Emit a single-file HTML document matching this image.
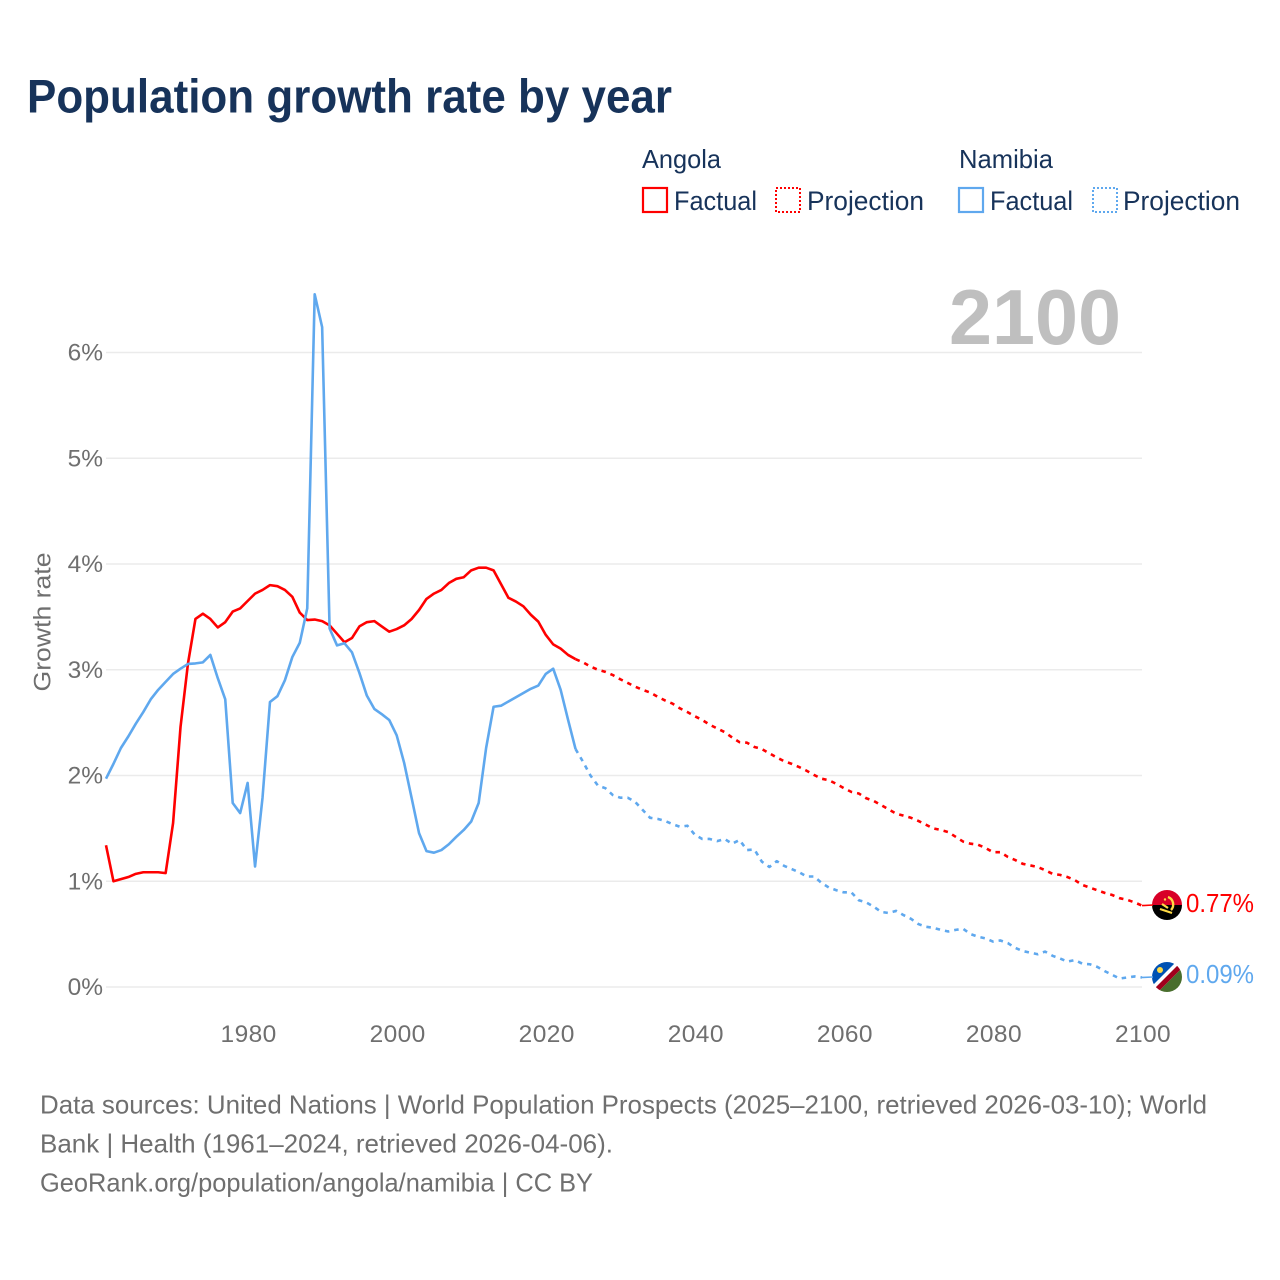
<!DOCTYPE html>
<html lang="en">
<head>
<meta charset="utf-8">
<title>Population growth rate by year</title>
<style>
html,body{margin:0;padding:0;background:#fff;width:1280px;height:1280px;overflow:hidden}
svg{display:block}
text{font-family:"Liberation Sans",sans-serif}
</style>
</head>
<body>
<svg id="chart" xmlns="http://www.w3.org/2000/svg" width="1280" height="1280" viewBox="0 0 1280 1280">
  <rect width="1280" height="1280" fill="#fff"/>
  <text x="27" y="112.5" font-size="47" font-weight="700" fill="#17335a" textLength="645" lengthAdjust="spacingAndGlyphs">Population growth rate by year</text>

  <g>
    <text x="642" y="168" font-size="26" fill="#17335a" textLength="79" lengthAdjust="spacingAndGlyphs">Angola</text>
    <text x="959" y="168" font-size="26" fill="#17335a" textLength="94" lengthAdjust="spacingAndGlyphs">Namibia</text>
    <g>
      <rect x="643" y="188" width="24" height="24" fill="none" stroke="#ff0000" stroke-width="2.2"/>
      <text x="674" y="210" font-size="26.5" fill="#17335a" textLength="83" lengthAdjust="spacingAndGlyphs">Factual</text>
    </g>
    <g>
      <rect x="776" y="188" width="24" height="24" fill="none" stroke="#ff0000" stroke-width="2" stroke-dasharray="2 2"/>
      <text x="807" y="210" font-size="26.5" fill="#17335a" textLength="117" lengthAdjust="spacingAndGlyphs">Projection</text>
    </g>
    <g>
      <rect x="959" y="188" width="24" height="24" fill="none" stroke="#5fa8ee" stroke-width="2.2"/>
      <text x="990" y="210" font-size="26.5" fill="#17335a" textLength="83" lengthAdjust="spacingAndGlyphs">Factual</text>
    </g>
    <g>
      <rect x="1093" y="188" width="24" height="24" fill="none" stroke="#5fa8ee" stroke-width="2" stroke-dasharray="2 2"/>
      <text x="1123" y="210" font-size="26.5" fill="#17335a" textLength="117" lengthAdjust="spacingAndGlyphs">Projection</text>
    </g>
  </g>

  <g id="grid"></g>
  <g id="yticks"></g>
  <g id="xticks"></g>
  <text x="0" y="0" transform="translate(50.5,622) rotate(-90)" text-anchor="middle" font-size="24.5" fill="#6f6f6f" textLength="139" lengthAdjust="spacingAndGlyphs">Growth rate</text>
  <text x="949" y="344" font-size="78" font-weight="700" fill="#bfbfbf" textLength="172" lengthAdjust="spacingAndGlyphs">2100</text>
  <g id="series"></g>

  <defs>
    <clipPath id="clip-angola"><circle cx="1167" cy="905" r="15"/></clipPath>
    <clipPath id="clip-namibia"><circle cx="1167" cy="977" r="15"/></clipPath>
  </defs>
  <g clip-path="url(#clip-angola)">
    <rect x="1152" y="890" width="30" height="15" fill="#d80027"/>
    <rect x="1152" y="905" width="30" height="15" fill="#000"/>
    <path d="M1168 897a8 8 0 0 1 3 13" fill="none" stroke="#ffda44" stroke-width="2.4"/>
    <path d="M1160 909l12 4" fill="none" stroke="#ffda44" stroke-width="2.2"/>
    <path d="M1162 904l6 4" fill="none" stroke="#ffda44" stroke-width="2.2"/>
    <circle cx="1165" cy="899.5" r="1.2" fill="#ffda44"/>
  </g>
  <g clip-path="url(#clip-namibia)">
    <rect x="1152" y="962" width="30" height="30" fill="#fff"/>
    <path d="M1152 962h24l-24 24z" fill="#0052b4"/>
    <path d="M1182 992h-24l24-24z" fill="#496e2d"/>
    <path d="M1177.5 965.5l3.500 3.500-23 23-3.500-3.500z" fill="#a2001d"/>
    <circle cx="1160" cy="970" r="3" fill="#ffda44"/>
  </g>
  <g id="endlabels"></g>

  <g fill="#6f6f6f">
    <text x="40" y="1113.500" font-size="26" textLength="1167" lengthAdjust="spacingAndGlyphs">Data sources: United Nations | World Population Prospects (2025–2100, retrieved 2026-03-10); World</text>
    <text x="40" y="1152.500" font-size="26" textLength="573" lengthAdjust="spacingAndGlyphs">Bank | Health (1961–2024, retrieved 2026-04-06).</text>
    <text x="40" y="1191.500" font-size="26" textLength="553" lengthAdjust="spacingAndGlyphs">GeoRank.org/population/angola/namibia | CC BY</text>
  </g>
</svg>
<script>
const factualStartYear = 1961;
const projectionStartYear = 2024;
const xTickYears = [1980, 2000, 2020, 2040, 2060, 2080, 2100];
const yTickValues = [0, 1, 2, 3, 4, 5, 6];
const angolaFactual = [1.34,1.00,1.02,1.04,1.07,1.085,1.085,1.085,1.077,1.55,2.46,3.06,3.48,3.53,3.48,3.40,3.45,3.55,3.58,3.65,3.72,3.755,3.80,3.79,3.755,3.69,3.54,3.47,3.475,3.46,3.42,3.34,3.26,3.30,3.41,3.45,3.46,3.41,3.36,3.385,3.42,3.48,3.565,3.67,3.72,3.755,3.82,3.86,3.875,3.94,3.965,3.965,3.94,3.81,3.68,3.645,3.60,3.52,3.455,3.33,3.24,3.20,3.14,3.10];
const angolaProjection = [3.10,3.07,3.03,3.00,2.98,2.95,2.91,2.875,2.84,2.81,2.785,2.745,2.71,2.68,2.635,2.60,2.56,2.525,2.48,2.445,2.41,2.36,2.315,2.31,2.27,2.25,2.21,2.17,2.135,2.11,2.08,2.045,2.005,1.97,1.955,1.92,1.88,1.845,1.83,1.785,1.76,1.72,1.68,1.64,1.62,1.60,1.57,1.535,1.50,1.485,1.465,1.42,1.375,1.355,1.345,1.315,1.275,1.275,1.23,1.20,1.165,1.15,1.135,1.105,1.07,1.06,1.04,1.01,0.965,0.94,0.915,0.89,0.87,0.84,0.825,0.80,0.77];
const namibiaFactual = [1.97,2.11,2.26,2.37,2.49,2.60,2.72,2.81,2.885,2.96,3.01,3.055,3.06,3.07,3.14,2.92,2.72,1.74,1.645,1.93,1.14,1.79,2.695,2.75,2.90,3.12,3.255,3.58,6.55,6.24,3.39,3.23,3.25,3.165,2.97,2.755,2.63,2.58,2.525,2.38,2.12,1.79,1.455,1.285,1.27,1.295,1.35,1.42,1.485,1.565,1.74,2.26,2.65,2.66,2.70,2.74,2.78,2.82,2.85,2.96,3.01,2.81,2.525,2.25];
const namibiaProjection = [2.25,2.13,2.00,1.905,1.88,1.815,1.79,1.79,1.75,1.675,1.60,1.59,1.57,1.54,1.515,1.525,1.44,1.40,1.40,1.38,1.40,1.355,1.39,1.295,1.30,1.185,1.135,1.19,1.145,1.115,1.085,1.045,1.045,0.985,0.94,0.915,0.895,0.895,0.82,0.80,0.76,0.71,0.70,0.72,0.68,0.645,0.595,0.57,0.56,0.54,0.525,0.54,0.55,0.50,0.475,0.46,0.43,0.44,0.415,0.37,0.34,0.325,0.31,0.335,0.295,0.27,0.24,0.255,0.22,0.215,0.19,0.15,0.115,0.08,0.09,0.10,0.09];

const SVG_NS = 'http://www.w3.org/2000/svg';
const RED = '#ff0000';
const BLUE = '#5fa8ee';
function xScale(year) { return 106 + (year - 1961) * (1036 / 139); }
function yScale(value) { return 987 - value * 105.75; }
function make(tag, attrs) {
  const el = document.createElementNS(SVG_NS, tag);
  for (const k in attrs) el.setAttribute(k, attrs[k]);
  return el;
}
function linePoints(values, startYear) {
  return values.map(function (v, i) {
    return xScale(startYear + i).toFixed(2) + ',' + yScale(v).toFixed(2);
  }).join(' ');
}

const grid = document.getElementById('grid');
const yticks = document.getElementById('yticks');
yTickValues.forEach(function (v) {
  const gl = make('line', {x1: 106, x2: 1142, y1: yScale(v), y2: yScale(v), stroke: '#ebebeb', 'stroke-width': 1.5});
  
  
  grid.appendChild(gl);
  const t = make('text', {x: 103, y: yScale(v) + 8, 'text-anchor': 'end', 'font-size': 24.5, fill: '#6f6f6f'});
  
  
  t.textContent = v + '%';
  yticks.appendChild(t);
});

const xticks = document.getElementById('xticks');
xTickYears.forEach(function (year) {
  const t = make('text', {x: xScale(year) + 1, y: 1042, 'text-anchor': 'middle', 'font-size': 24.5, 'letter-spacing': 0.4, fill: '#6f6f6f'});
  
  
  t.textContent = year;
  xticks.appendChild(t);
});

const series = document.getElementById('series');
function addLine(values, startYear, color, dashed, name) {
  const attrs = {points: linePoints(values, startYear), fill: 'none', stroke: color, 'stroke-width': 2.6, 'stroke-linejoin': 'round'};
  if (dashed) attrs['stroke-dasharray'] = '4.500 5';
  const line = make('polyline', attrs);
  
  
  series.appendChild(line);
}
addLine(angolaFactual, factualStartYear, RED, false, 'angola-factual-line');
addLine(angolaProjection, projectionStartYear, RED, true, 'angola-projection-line');
addLine(namibiaFactual, factualStartYear, BLUE, false, 'namibia-factual-line');
addLine(namibiaProjection, projectionStartYear, BLUE, true, 'namibia-projection-line');

const endlabels = document.getElementById('endlabels');
function addEnd(values, color, flagY, labelY, name) {
  const last = values[values.length - 1];
  const conn = make('polyline', {points: xScale(2100) + ',' + yScale(last) + ' 1153,' + flagY, fill: 'none', stroke: color, 'stroke-width': 1.6});
  
  
  endlabels.appendChild(conn);
  const t = make('text', {x: 1186, y: labelY, 'font-size': 26, fill: color});
  
  
  t.setAttribute('textLength', 68);
  t.setAttribute('lengthAdjust', 'spacingAndGlyphs');
  t.textContent = last.toFixed(2) + '%';
  endlabels.appendChild(t);
}
addEnd(angolaProjection, RED, 905, 912, 'angola');
addEnd(namibiaProjection, BLUE, 977, 983, 'namibia');
</script>
</body>
</html>
